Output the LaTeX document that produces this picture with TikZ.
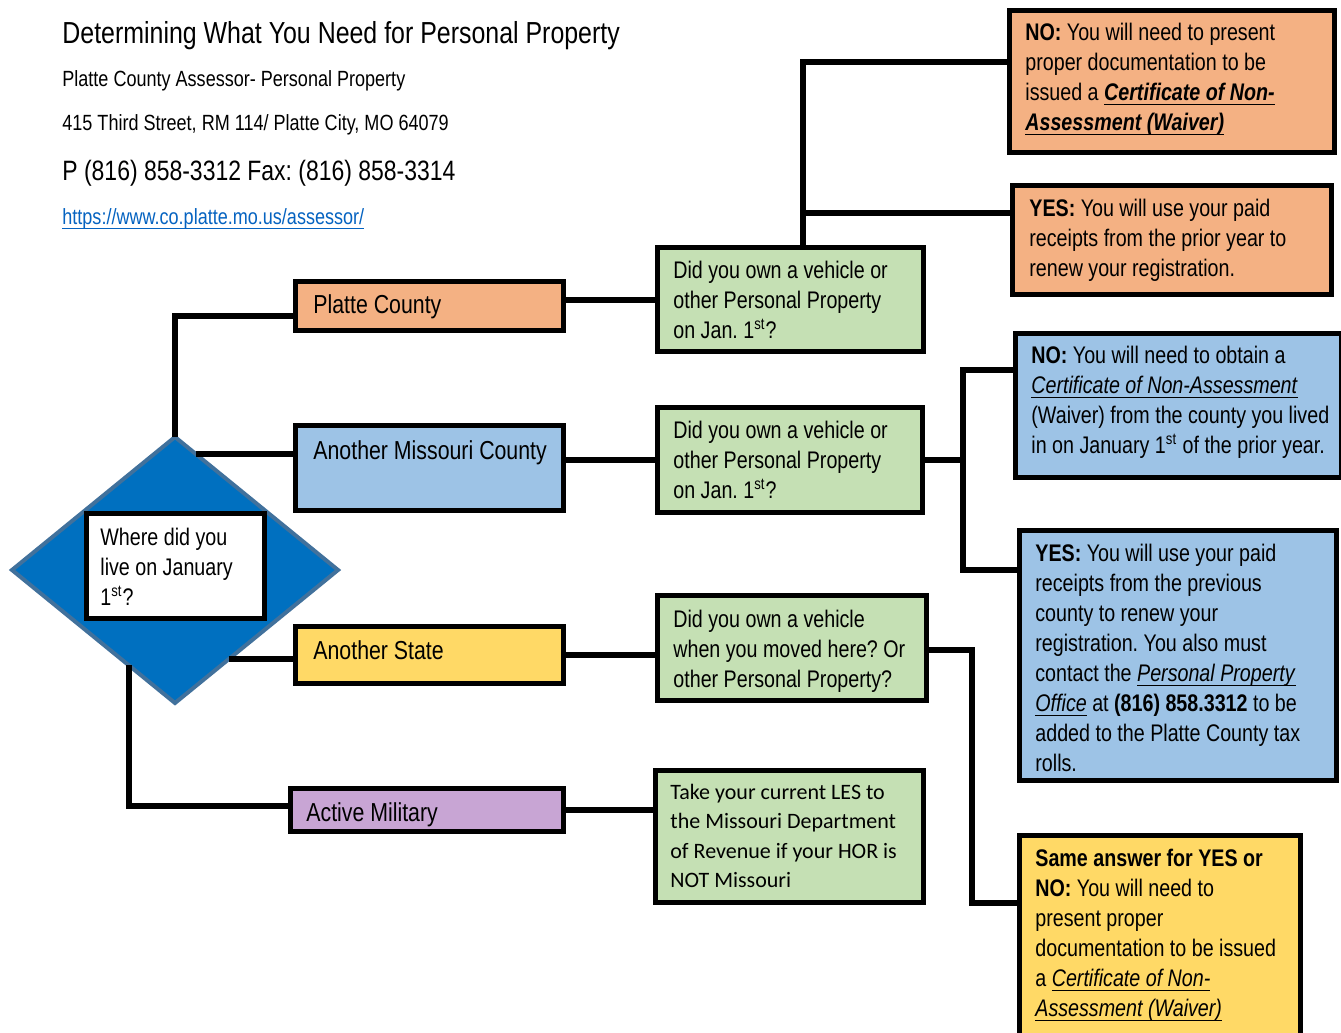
\documentclass[tikz,border=0pt]{standalone}
\usepackage{fontspec}
\setmainfont[FakeStretch=0.82]{Liberation Sans}
\newfontfamily\calfont{Carlito}
\usetikzlibrary{shapes.geometric}
\definecolor{orangeF}{HTML}{F4B183}
\definecolor{blueF}{HTML}{9DC3E6}
\definecolor{greenF}{HTML}{C5E0B4}
\definecolor{yellowF}{HTML}{FFD966}
\definecolor{purpleF}{HTML}{C8A5D4}
\definecolor{diamF}{HTML}{0070C0}
\definecolor{diamB}{HTML}{41719C}
\definecolor{linkC}{HTML}{0563C1}
\newsavebox\ulbox
\newcommand\myul[1]{\leavevmode\sbox\ulbox{#1}\rlap{\rule[-2.6pt]{\wd\ulbox}{0.8pt}}\usebox\ulbox}
\newcommand\boxnode[6]{%
  \node[box, fill=#6, anchor=north west,
        minimum width={(#4-#2-5)*0.5pt}, minimum height={(#5-#3-5)*0.5pt}]
        (#1) at ({#2+2.5},{#3+2.5}) {};}
\begin{document}
\frenchspacing
\begin{tikzpicture}[x=0.5pt,y=-0.5pt,
  box/.style={draw=black, line width=2.5pt, inner sep=0pt, outer sep=0pt, rectangle},
  txt/.style={anchor=base west, align=flush left, text width=175pt, inner sep=0pt,
              font=\fontsize{12}{15}\selectfont},
  lbl/.style={anchor=base west, inner sep=0pt, font=\fontsize{13}{15}\selectfont},
  head/.style={anchor=base west, inner sep=0pt},
  conn/.style={line width=3pt}]
\useasboundingbox (0,0) rectangle (1341,1033);
\fill[white] (0,0) rectangle (1341,1033);

% header
\node[head, font=\fontsize{15.2}{18}\selectfont] (title) at (62,43) {Determining What You Need for Personal Property};
\node[head, font=\fontsize{11}{13}\selectfont] (org) at (62,86) {Platte County Assessor- Personal Property};
\node[head, font=\fontsize{11}{13}\selectfont] (addr) at (62,130) {415 Third Street, RM 114/ Platte City, MO 64079};
\node[head, font=\fontsize{14}{17}\selectfont] (phone) at (62,180) {P (816) 858-3312 Fax: (816) 858-3314};
\node[head, font=\fontsize{11}{13}\selectfont, text=linkC] (url) at (62,224) {\myul{https://www.co.platte.mo.us/assessor/}};

% decision diamond
\node[diamond, draw=diamB, fill=diamF, line width=2pt, minimum width=163pt,
      minimum height=133pt, inner sep=0pt, outer sep=0pt] (d) at (175,570) {};
\boxnode{w}{84}{511}{267}{621}{white}
\node[txt] (wt) at (100,545) {Where did you\\ live on January\\ 1\textsuperscript{st}?};

% category boxes
\boxnode{pc}{293}{279}{566}{333}{orangeF}
\boxnode{amc}{293}{423}{566}{513}{blueF}
\boxnode{as}{293}{624}{566}{686}{yellowF}
\boxnode{am}{288}{786}{566}{834}{purpleF}
\node[lbl] (pct) at (313,313) {Platte County};
\node[lbl] (amct) at (313,459) {Another Missouri County};
\node[lbl] (ast) at (313,659) {Another State};
\node[lbl] (amt) at (306,821) {Active Military};

% question boxes
\boxnode{q1}{655}{245}{926}{354}{greenF}
\boxnode{q2}{655}{405}{925}{515}{greenF}
\boxnode{q3}{655}{593}{929}{703}{greenF}
\boxnode{q4}{653}{768}{926}{905}{greenF}
\node[txt] (q1t) at (673,278) {Did you own a vehicle or\\ other Personal Property\\ on Jan. 1\textsuperscript{st}?};
\node[txt] (q2t) at (673,438) {Did you own a vehicle or\\ other Personal Property\\ on Jan. 1\textsuperscript{st}?};
\node[txt] (q3t) at (673,627) {Did you own a vehicle\\ when you moved here? Or\\ other Personal Property?};
\node[txt, font=\calfont\fontsize{11}{14.75}\selectfont] (q4t) at (670,799) {Take your current LES to\\ the Missouri Department\\ of Revenue if your HOR is\\ NOT Missouri};

% answer boxes
\boxnode{a1}{1007}{8}{1337}{155}{orangeF}
\boxnode{a2}{1010}{183}{1334}{297}{orangeF}
\boxnode{a3}{1013}{331}{1344}{480}{blueF}
\boxnode{a4}{1017}{528}{1339}{783}{blueF}
\boxnode{a5}{1017}{833}{1303}{1042}{yellowF}
\node[txt] (a1t) at (1025,40) {\textbf{NO:} You will need to present\\ proper documentation to be\\ issued a \myul{\textbf{\textit{Certificate of Non-}}}\\ \myul{\textbf{\textit{Assessment (Waiver)}}}};
\node[txt] (a2t) at (1029,216) {\textbf{YES:} You will use your paid\\ receipts from the prior year to\\ renew your registration.};
\node[txt] (a3t) at (1031,363) {\textbf{NO:} You will need to obtain a\\ \myul{\textit{Certificate of Non-Assessment}}\\ (Waiver) from the county you lived\\ in on January 1\textsuperscript{st} of the prior year.};
\node[txt] (a4t) at (1035,561) {\textbf{YES:} You will use your paid\\ receipts from the previous\\ county to renew your\\ registration. You also must\\ contact the \myul{\textit{Personal Property}}\\ \myul{\textit{Office}} at \textbf{(816) 858.3312} to be\\ added to the Platte County tax\\ rolls.};
\node[txt] (a5t) at (1035,866) {\textbf{Same answer for YES or}\\ \textbf{NO:} You will need to\\ present proper\\ documentation to be issued\\ a \myul{\textit{Certificate of Non-}}\\ \myul{\textit{Assessment (Waiver)}}};

% connectors: diamond to categories
\coordinate (k1) at (175,316);
\coordinate (k4) at (129,806);
\draw[conn] (d.north) -- (k1) -- (k1 -| pc.west);
\draw[conn] (d.80) -- (d.80 -| amc.west);
\draw[conn] (d.-59.5) -- (d.-59.5 -| as.west);
\draw[conn] (d.244.4 -| k4) -- (k4) -- (k4 -| am.west);

% categories to questions
\draw[conn] (q1.west -| pc.east) -- (q1.west);
\draw[conn] (q2.west -| amc.east) -- (q2.west);
\draw[conn] (as.east) -- (as.east -| q3.west);
\draw[conn] (am.east) -- (am.east -| q4.west);

% questions to answers
\coordinate (b1t) at (803,62);
\coordinate (b1m) at (803,213);
\draw[conn] (q1.north -| b1t) -- (b1t) -- (b1t -| a1.west);
\draw[conn] (b1m) -- (b1m -| a2.west);
\coordinate (b2t) at (963,370);
\coordinate (b2b) at (963,570);
\draw[conn] (q2.east) -- (q2.east -| b2t);
\draw[conn] (b2t -| a3.west) -- (b2t) -- (b2b) -- (b2b -| a4.west);
\coordinate (b3t) at (972,650);
\coordinate (b3b) at (972,903);
\draw[conn] (q3.east |- b3t) -- (b3t) -- (b3b) -- (b3b -| a5.west);
\end{tikzpicture}
\end{document}
